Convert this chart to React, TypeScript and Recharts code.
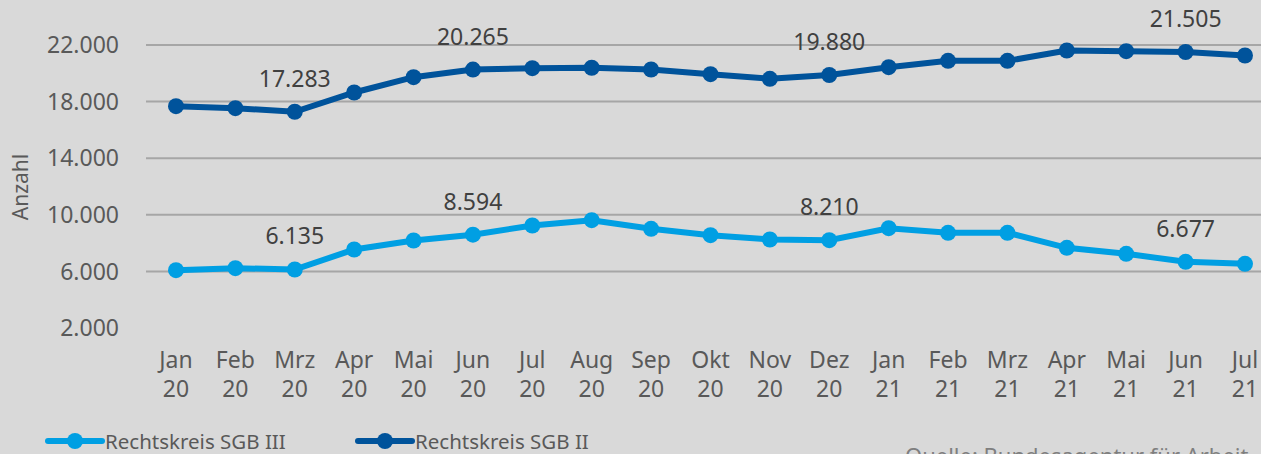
import React from 'react';
import { LineChart, Line, XAxis, YAxis, CartesianGrid, LabelList, Label } from 'recharts';

const months = ['Jan', 'Feb', 'Mrz', 'Apr', 'Mai', 'Jun', 'Jul', 'Aug', 'Sep', 'Okt', 'Nov', 'Dez', 'Jan', 'Feb', 'Mrz', 'Apr', 'Mai', 'Jun', 'Jul'];
const years = ['20', '20', '20', '20', '20', '20', '20', '20', '20', '20', '20', '20', '21', '21', '21', '21', '21', '21', '21'];
const sgb3 = [6085, 6226, 6135, 7548, 8184, 8594, 9244, 9620, 9010, 8560, 8255, 8210, 9053, 8728, 8728, 7668, 7244, 6677, 6537];
const sgb2 = [17675, 17534, 17283, 18643, 19725, 20265, 20360, 20390, 20270, 19937, 19610, 19880, 20431, 20883, 20880, 21611, 21562, 21505, 21258];
const labelled = [2, 5, 11, 17];
const yTicks = [2000, 6000, 10000, 14000, 18000, 22000];

const LIGHT = '#009fe3';
const DARK = '#00539b';
const FONT = '"Noto Sans", sans-serif';

const data = months.map((m, i) => ({ name: `${m} ${years[i]}`, month: m, year: years[i], sgb3: sgb3[i], sgb2: sgb2[i] }));

const fmt = (v: number) => String(v).replace(/\B(?=(\d{3})+(?!\d))/g, '.');

const MonthTick = (props: any) => {
  const { x, y, payload } = props;
  const d = data[payload.index];
  return (
    <g>
      <text x={x} y={y + 40} textAnchor="middle" fill="#595959" fontSize={23} fontFamily={FONT}>{d.month}</text>
      <text x={x} y={y + 69} textAnchor="middle" fill="#595959" fontSize={23} fontFamily={FONT}>{d.year}</text>
    </g>
  );
};

const ValueLabel = (props: any) => {
  const { x, y, value, index } = props;
  if (!labelled.includes(index)) return null;
  return (
    <text x={x} y={y - 25} textAnchor="middle" fill="#404040" fontSize={23} fontFamily={FONT}>{fmt(value)}</text>
  );
};

const LegendItem = ({ color, label }: { color: string; label: string }) => (
  <div style={{ display: 'flex', alignItems: 'center', height: 24 }}>
    <svg width={60} height={20}>
      <line x1={3} y1={10} x2={57} y2={10} stroke={color} strokeWidth={6} strokeLinecap="round" />
      <circle cx={30} cy={10} r={8} fill={color} />
    </svg>
    <span style={{ fontSize: 20.5, lineHeight: '24px', color: '#595959' }}>{label}</span>
  </div>
);

export default function App() {
  return (
    <div style={{ position: 'absolute', left: 0, top: 0, width: 1261, height: 454, overflow: 'hidden', background: '#d9d9d9', fontFamily: FONT }}>
      <LineChart width={1280} height={454} data={data} margin={{ top: 45, right: 5, left: 0, bottom: 0 }}>
        <CartesianGrid vertical={false} stroke="#a6a6a6" strokeWidth={2} horizontalValues={yTicks.slice(1)} />
        <XAxis dataKey="name" height={126} axisLine={false} tickLine={false} tickSize={0} tickMargin={0} interval={0}
          padding={{ left: 30, right: 30 }} tick={<MonthTick />} />
        <YAxis domain={[2000, 22000]} ticks={yTicks} width={146} axisLine={false} tickLine={false} tickSize={0} tickMargin={27}
          tickFormatter={fmt} tick={{ fill: '#595959', fontSize: 23, fontFamily: FONT }}>
          <Label content={() => (
            <text x={28} y={187} transform="rotate(-90 28 187)" textAnchor="middle" fill="#595959" fontSize={21} fontFamily={FONT}>Anzahl</text>
          )} />
        </YAxis>
        <Line dataKey="sgb3" stroke={LIGHT} strokeWidth={6} dot={{ r: 8, fill: LIGHT, stroke: LIGHT, strokeWidth: 0 }} isAnimationActive={false}>
          <LabelList dataKey="sgb3" content={<ValueLabel />} />
        </Line>
        <Line dataKey="sgb2" stroke={DARK} strokeWidth={6} dot={{ r: 8, fill: DARK, stroke: DARK, strokeWidth: 0 }} isAnimationActive={false}>
          <LabelList dataKey="sgb2" content={<ValueLabel />} />
        </Line>
      </LineChart>
      <div style={{ position: 'absolute', left: 45, top: 429 }}><LegendItem color={LIGHT} label="Rechtskreis SGB III" /></div>
      <div style={{ position: 'absolute', left: 355, top: 429 }}><LegendItem color={DARK} label="Rechtskreis SGB II" /></div>
      <div style={{ position: 'absolute', left: 905, top: 440, fontSize: 22, color: '#7f7f7f', whiteSpace: 'nowrap' }}>Quelle: Bundesagentur für Arbeit</div>
    </div>
  );
}
